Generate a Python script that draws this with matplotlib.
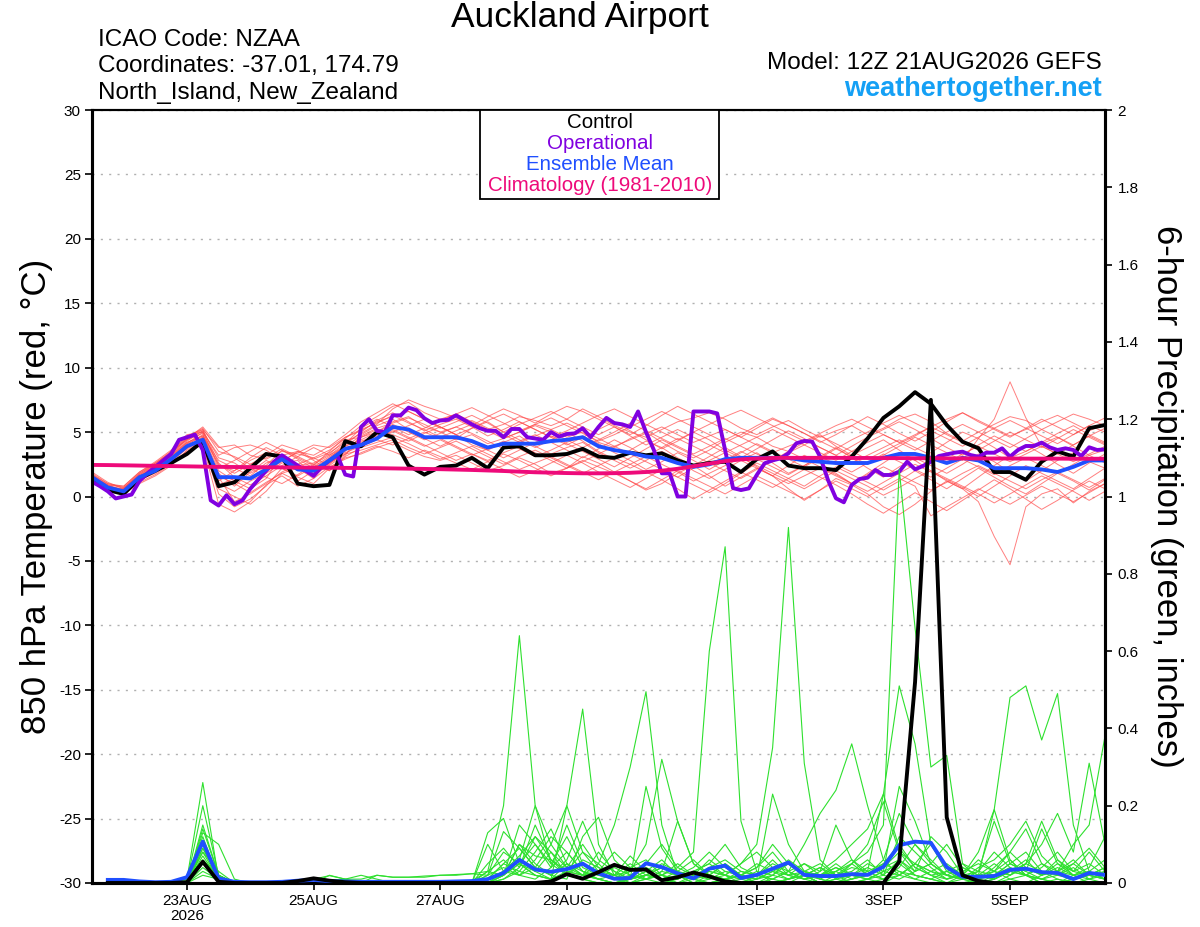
import numpy as np
import matplotlib
matplotlib.use("Agg")
import matplotlib.pyplot as plt
from matplotlib.patches import Rectangle

plt.rcParams['font.family'] = ['Liberation Sans', 'DejaVu Sans']

# ---------------- DATA ----------------
temp_hours = np.arange(0, 385, 6)      # 12Z 21AUG2026 + hours
op_hours = np.arange(0, 385, 3)
precip_hours = np.arange(6, 385, 6)

xtick_hours = [36, 84, 132, 180, 252, 300, 348]
xtick_labels = ["23AUG\n2026", "25AUG", "27AUG", "29AUG", "1SEP", "3SEP", "5SEP"]

control_temp = [1.4, 0.5, 0.2, 1.4, 2.0, 2.6, 3.3, 4.3, 0.8, 1.1, 2.2, 3.3, 3.1, 1.0, 0.8, 0.9,
                4.3, 3.9, 5.0, 4.6, 2.4, 1.7, 2.3, 2.4, 3.0, 2.2, 3.8, 3.9, 3.2, 3.2, 3.3, 3.7,
                3.1, 3.0, 3.4, 3.2, 3.35, 2.8, 2.4, 2.6, 2.7, 1.9, 2.9, 3.5, 2.4, 2.2, 2.2, 2.05,
                3.1, 4.5, 6.1, 7.0, 8.1, 7.2, 5.55, 4.25, 3.75, 1.9, 1.9, 1.3, 2.7, 3.5, 3.1, 5.3, 5.55]

operational_temp = [1.15, 0.8, 0.4, -0.15, 0.0, 0.15, 1.2, 1.8, 2.3, 2.8, 3.3, 4.4, 4.6, 4.8, 3.6, -0.3,
                    -0.7, 0.1, -0.6, -0.3, 0.6, 1.3, 2.0, 2.7, 3.2, 2.8, 2.4, 2.0, 1.6, 2.3, 2.8, 3.2,
                    1.7, 1.55, 5.4, 6.0, 5.1, 5.0, 6.3, 6.3, 6.9, 6.7, 6.07, 5.7, 5.9, 5.95, 6.3, 5.95,
                    5.6, 5.3, 5.1, 5.1, 4.6, 5.24, 5.24, 4.6, 4.5, 4.4, 5.0, 4.65, 4.85, 4.9, 5.3, 4.6,
                    5.4, 6.1, 5.7, 5.6, 5.4, 6.6, 5.0, 3.6, 1.8, 1.8, 0.0, 0.0, 6.6, 6.6, 6.6, 6.45,
                    3.6, 0.65, 0.5, 0.63, 1.67, 2.58, 2.8, 2.96, 3.35, 4.13, 4.31, 4.26, 3.09, 1.28, -0.14, -0.45,
                    0.9, 1.36, 1.46, 2.06, 1.67, 1.67, 1.93, 2.7, 2.11, 2.37, 2.7, 3.14, 3.27, 3.4, 3.48, 3.22,
                    3.09, 3.4, 3.4, 3.74, 3.09, 3.61, 3.92, 3.92, 4.18, 3.82, 3.61, 3.74, 3.61, 3.14, 3.82, 3.61,
                    3.66]

ens_mean_temp = [1.5, 0.7, 0.4, 1.5, 2.0, 2.9, 3.9, 4.4, 1.5, 1.5, 1.4, 2.1, 2.9, 2.1, 2.0, 2.8,
                 3.7, 4.0, 4.5, 5.4, 5.2, 4.6, 4.6, 4.6, 4.3, 3.8, 4.1, 4.1, 4.1, 4.3, 4.4, 4.6,
                 3.9, 3.6, 3.4, 3.1, 3.0, 2.6, 2.3, 2.5, 2.9, 3.0, 3.0, 3.0, 3.0, 2.8, 2.7, 2.6,
                 2.6, 2.6, 3.0, 3.3, 3.3, 3.0, 2.6, 3.0, 2.8, 2.2, 2.2, 2.2, 2.1, 1.9, 2.3, 2.8, 2.8]

climatology_temp = [2.45, 2.44, 2.42, 2.4, 2.38, 2.36, 2.34, 2.32, 2.3, 2.29, 2.28, 2.27, 2.26, 2.25, 2.24, 2.23,
                    2.22, 2.21, 2.2, 2.18, 2.16, 2.14, 2.12, 2.09, 2.06, 2.02, 1.98, 1.93, 1.88, 1.85, 1.82, 1.8,
                    1.8, 1.81, 1.84, 1.9, 2.0, 2.15, 2.35, 2.55, 2.75, 2.88, 2.95, 2.99, 3.0, 3.0, 3.0, 3.0,
                    2.99, 2.99, 2.98, 2.98, 2.97, 2.97, 2.96, 2.96, 2.95, 2.95, 2.95, 2.94, 2.94, 2.94, 2.93, 2.93, 2.93]

red_members = [
    [1.8,1.0,0.8,1.9,2.6,3.4,4.5,5.2,3.8,4.0,3.2,2.9,3.5,3.3,3.0,3.6,4.5,5.5,6.2,7.0,7.3,6.5,6.0,6.4,5.8,5.2,5.6,6.2,5.9,5.5,6.0,6.8,6.2,5.5,5.0,4.6,5.2,5.8,6.1,6.5,6.0,5.3,4.8,5.4,5.9,5.2,4.6,5.1,5.5,4.8,5.3,6.0,6.4,5.8,4.9,4.3,5.0,5.6,6.2,5.9,5.2,5.8,6.4,6.0,5.5],
    [1.2,0.5,0.2,1.0,1.6,2.4,3.6,4.2,0.2,-0.8,-0.2,0.8,2.2,1.5,1.0,2.2,3.0,3.3,3.8,4.2,3.6,3.1,2.8,3.2,2.6,2.0,2.4,3.0,2.5,1.8,2.2,3.1,2.6,1.9,1.2,0.5,1.0,1.8,2.4,1.6,0.8,1.5,2.2,1.6,0.6,-0.3,0.5,1.4,0.9,0.2,-0.8,-1.4,-0.6,0.4,1.2,0.6,-0.4,-3.1,-5.3,-0.8,0.2,0.6,-0.5,0.4,1.0],
    [1.6,0.8,0.5,1.6,2.2,3.1,4.1,5.0,2.4,2.0,2.8,3.4,3.0,2.4,2.6,3.3,4.4,4.6,5.0,5.8,6.2,5.4,5.0,4.4,4.8,4.1,4.5,5.0,5.6,5.2,4.6,5.0,4.2,3.8,4.5,5.0,4.2,3.5,3.0,3.6,4.4,5.0,4.6,3.9,3.5,4.2,4.8,3.9,3.2,3.8,4.4,3.6,2.8,3.4,4.2,5.0,4.5,3.8,3.0,3.5,4.1,4.6,3.9,3.2,3.6],
    [1.4,0.6,0.3,1.3,1.8,2.6,3.8,4.6,1.0,0.4,1.2,1.8,2.6,2.8,1.6,2.5,3.5,4.6,5.2,4.8,4.3,4.9,5.4,4.8,4.0,3.6,4.2,4.7,3.9,3.3,3.8,4.2,3.4,2.8,2.2,2.8,3.5,2.9,2.0,1.4,2.1,2.8,3.4,2.6,1.8,2.4,3.1,3.8,3.0,2.2,1.5,2.3,3.0,2.4,1.8,2.5,3.3,2.7,1.9,1.2,2.0,2.8,3.4,2.7,2.2],
    [1.5,0.7,0.5,1.4,2.1,3.0,4.0,4.8,2.0,1.2,0.6,1.4,3.2,3.5,2.8,2.0,3.2,4.8,5.5,6.0,5.2,4.5,3.9,4.5,5.3,5.8,5.0,4.4,3.8,4.4,5.0,4.3,3.5,2.9,3.6,4.3,3.8,3.0,2.4,3.1,3.8,3.1,2.3,1.6,2.4,3.2,2.6,1.8,1.0,1.8,2.6,3.4,2.8,2.0,1.2,0.6,1.5,2.4,3.2,4.0,3.3,2.5,1.8,2.6,3.3],
    [1.3,0.6,0.6,1.7,2.4,3.2,4.3,5.1,3.0,2.6,1.8,2.4,3.6,2.9,2.2,3.0,4.0,5.0,5.9,6.5,5.8,5.1,5.6,6.0,5.4,4.7,5.2,5.8,5.2,4.6,4.0,4.6,5.2,5.8,5.1,4.4,3.7,4.3,5.0,4.4,3.6,3.0,3.7,4.4,5.1,4.5,3.8,3.2,3.9,4.6,5.2,5.8,5.2,4.5,3.8,3.2,4.0,4.7,4.1,3.5,4.2,4.9,5.5,4.8,4.2],
    [1.7,0.9,0.4,1.5,2.3,3.3,4.4,4.9,1.5,-0.4,0.2,1.0,1.9,2.5,3.0,2.4,3.3,4.2,4.8,5.2,4.6,4.0,3.4,2.8,3.3,2.7,2.1,1.5,2.0,2.6,3.2,2.6,1.9,1.3,0.7,1.4,2.1,1.5,0.9,0.3,1.0,1.8,2.6,2.0,1.4,0.8,1.6,2.3,1.7,1.1,0.5,1.2,2.0,1.3,0.6,1.4,2.2,1.5,0.8,0.2,1.0,1.8,1.2,0.5,1.3],
    [1.5,0.8,0.6,1.8,2.5,3.5,4.6,5.3,3.5,3.1,2.5,3.2,4.0,3.6,2.9,3.4,4.2,4.9,5.6,6.8,7.5,7.0,6.6,6.1,5.5,6.2,6.8,6.3,5.7,6.4,7.0,6.6,6.0,5.4,4.8,5.5,6.3,7.0,6.4,5.8,5.2,4.6,5.3,6.0,5.5,4.9,4.2,4.8,5.5,6.2,5.6,4.9,4.3,5.0,5.8,6.5,5.8,5.2,4.6,5.3,6.0,5.4,4.8,5.5,6.1],
    [1.1,0.4,0.3,1.2,1.9,2.8,3.7,4.3,0.6,0.0,-0.6,0.4,1.8,2.2,1.8,2.6,3.3,3.6,4.0,4.4,3.8,3.3,3.8,4.3,3.7,3.1,2.5,3.1,3.6,3.0,2.4,1.8,2.4,3.0,2.5,1.9,1.3,0.6,-0.2,0.5,1.2,1.9,1.3,0.7,1.4,2.1,1.5,0.9,0.2,-0.6,-1.3,-0.5,0.3,-0.4,-1.1,-0.3,0.5,1.3,0.6,-0.2,-1.0,-0.3,0.5,1.2,0.6],
    [1.6,0.9,0.7,1.6,2.3,3.2,4.2,4.7,2.8,2.2,1.6,2.6,3.0,2.2,1.4,2.9,3.9,4.4,5.0,5.6,5.0,4.4,4.9,5.4,4.9,4.3,3.7,4.3,4.8,4.2,3.6,3.0,3.7,4.4,3.8,3.1,3.8,4.5,3.9,3.3,2.7,3.4,4.1,3.5,2.9,2.3,3.0,3.7,3.1,2.5,3.2,3.9,4.6,4.0,3.4,2.8,4.5,6.0,8.9,6.1,3.9,3.3,4.0,4.7,4.1],
    [1.4,0.5,0.4,1.4,2.0,2.7,3.9,4.5,1.2,2.0,3.0,3.8,3.2,2.5,1.8,2.6,3.6,4.3,4.7,5.0,5.5,6.0,5.4,4.8,4.2,3.6,3.0,3.6,4.2,4.7,4.1,3.5,2.9,2.3,3.0,3.7,4.4,3.8,3.2,2.6,2.0,1.4,2.1,2.8,3.5,2.9,2.3,1.7,1.0,0.4,1.1,1.8,2.5,1.9,1.3,0.7,0.0,0.8,1.6,2.4,1.8,1.2,0.6,1.4,2.2],
    [1.9,1.1,0.6,1.7,2.5,3.4,4.7,5.2,2.6,1.5,0.9,1.6,2.4,3.1,3.8,3.2,4.1,5.3,6.0,5.4,4.8,5.3,5.9,6.4,6.9,6.3,5.7,5.1,5.6,6.1,5.5,4.9,4.3,4.8,5.4,6.0,6.6,6.0,5.4,4.8,4.2,4.8,5.5,6.1,5.5,4.9,4.3,3.7,4.4,5.0,5.7,6.3,5.7,5.1,4.5,3.9,4.6,5.3,5.9,5.3,4.7,4.1,4.8,5.5,5.0],
    [1.2,0.6,0.2,1.1,1.7,2.5,3.5,4.0,-0.6,-1.2,-0.4,0.9,1.6,0.8,1.4,2.3,2.9,3.4,3.9,3.5,3.0,3.6,3.1,2.6,2.1,2.7,3.3,2.8,2.2,1.6,2.2,2.8,2.3,1.8,1.2,0.6,1.3,2.0,1.4,0.8,0.2,0.9,1.6,1.0,0.4,-0.2,0.5,1.2,0.6,0.0,0.7,1.4,0.8,-1.5,-0.8,-0.1,0.6,0.0,-0.6,0.1,0.8,0.2,-0.4,0.3,1.0],
    [1.5,0.9,0.8,1.9,2.7,3.6,4.8,5.0,3.2,3.8,4.0,3.6,2.8,3.4,4.0,3.8,4.6,5.1,5.8,6.2,6.6,6.0,5.3,5.8,6.3,5.7,5.0,5.6,6.1,6.6,6.0,5.4,4.8,5.4,4.7,4.0,4.6,5.2,4.6,4.0,3.4,4.0,4.6,5.2,4.6,4.0,3.4,2.8,3.5,4.2,4.8,4.2,3.6,4.3,5.0,5.6,5.0,4.4,3.8,4.5,5.2,4.6,4.0,4.7,5.3],
    [1.3,0.7,0.5,1.5,2.2,3.0,4.1,4.6,1.8,0.8,1.9,2.8,2.2,1.6,2.3,3.1,3.8,4.0,4.6,5.1,4.5,3.9,4.4,3.8,3.2,3.7,4.3,3.7,3.1,3.6,4.2,4.7,4.1,3.4,2.8,2.1,2.7,3.4,2.8,2.1,2.8,3.5,2.9,2.3,1.7,2.4,3.1,2.5,1.9,2.6,3.3,2.7,2.1,1.5,2.2,2.9,2.3,1.7,2.4,3.0,2.4,1.8,2.5,3.2,2.6],
    [1.6,0.8,0.4,1.6,2.4,3.3,4.5,5.4,3.9,3.0,2.2,2.0,2.7,3.5,3.2,3.9,4.8,5.8,6.5,7.2,6.6,6.0,5.4,4.8,5.3,5.9,6.4,5.8,5.2,4.6,5.1,5.7,6.3,6.8,6.2,5.6,5.0,4.4,5.0,5.6,6.2,6.7,6.1,5.5,4.9,4.3,4.9,5.5,6.0,5.4,4.8,4.2,4.8,5.4,6.0,6.5,5.9,5.3,4.7,5.2,5.8,6.3,5.7,5.1,5.6],
    [1.4,0.6,0.3,1.3,2.0,2.9,3.8,4.4,0.9,1.4,2.2,1.5,1.0,1.7,2.5,2.0,3.1,3.8,4.2,4.6,4.1,3.5,2.9,3.4,3.9,3.3,2.7,2.1,2.6,3.1,2.5,1.9,1.3,1.9,2.5,3.1,2.5,1.9,1.2,1.8,2.4,3.0,2.4,1.8,1.2,0.6,1.3,2.0,1.4,0.8,0.1,0.7,1.4,2.0,1.4,0.8,0.2,-0.5,0.2,0.9,1.6,1.0,0.4,-0.3,0.4],
    [1.7,1.0,0.7,1.8,2.6,3.5,4.4,5.1,2.2,2.8,3.5,4.2,3.6,3.0,2.4,3.5,4.6,5.2,5.7,6.3,5.7,5.2,4.6,5.1,5.6,5.1,4.5,5.0,5.5,5.0,4.4,3.8,4.4,5.0,5.7,5.1,4.5,3.9,3.3,3.9,4.5,3.9,3.3,2.7,3.4,4.0,4.7,4.1,3.5,2.9,3.5,4.1,4.7,5.4,4.8,4.2,3.6,4.3,5.0,4.4,3.8,4.5,5.2,4.6,4.0],
    [1.2,0.5,0.4,1.4,2.0,2.8,3.9,4.3,1.6,1.0,0.3,1.1,1.8,1.2,2.0,2.7,3.4,3.9,4.4,4.0,4.5,5.0,4.5,3.9,3.3,2.8,3.4,3.9,3.4,2.8,2.2,2.7,3.3,3.9,3.3,2.7,2.1,1.5,2.2,2.8,3.4,2.8,2.2,1.6,1.0,1.6,2.2,1.6,1.0,1.7,2.3,1.7,1.1,0.5,1.1,1.8,2.4,1.8,1.2,0.6,1.3,1.9,1.3,0.7,1.4],
    [1.5,0.8,0.5,1.5,2.1,3.1,4.2,4.7,2.5,1.8,2.5,3.0,3.7,3.1,2.5,3.2,3.9,4.7,5.3,5.7,6.1,5.6,5.0,5.4,5.9,5.3,4.8,4.2,4.7,5.2,5.7,5.1,4.5,3.9,4.4,4.9,5.4,4.8,4.2,4.7,5.2,4.6,4.0,3.4,3.9,4.4,3.8,3.2,2.6,3.2,3.8,4.4,3.8,3.2,2.6,3.3,3.9,3.3,2.7,3.3,3.9,3.3,2.7,3.3,3.9],
]

control_precip = [0, 0, 0, 0, 0, 0.002, 0.055, 0.003,
                  0, 0, 0, 0, 0.005, 0.012, 0.006, 0.002,
                  0, 0, 0, 0, 0, 0, 0, 0,
                  0, 0, 0, 0, 0.004, 0.023, 0.011, 0.028,
                  0.047, 0.034, 0.035, 0.007, 0.015, 0.027, 0.017, 0.004,
                  0, 0, 0, 0, 0, 0, 0, 0,
                  0, 0, 0.055, 0.52, 1.25, 0.17, 0.02, 0.005,
                  0, 0, 0, 0, 0, 0, 0, 0]

ens_mean_precip = [0.008, 0.008, 0.004, 0.002, 0.003, 0.015, 0.107, 0.012,
                   0.003, 0.002, 0.002, 0.003, 0.006, 0.008, 0.005, 0.004,
                   0.003, 0.003, 0.003, 0.003, 0.003, 0.003, 0.004, 0.005,
                   0.010, 0.026, 0.060, 0.035, 0.029, 0.036, 0.050, 0.025,
                   0.011, 0.013, 0.051, 0.041, 0.025, 0.012, 0.037, 0.045,
                   0.013, 0.021, 0.037, 0.053, 0.021, 0.018, 0.018, 0.023,
                   0.021, 0.042, 0.098, 0.107, 0.104, 0.041, 0.016, 0.016,
                   0.018, 0.034, 0.037, 0.028, 0.026, 0.010, 0.026, 0.021]

Z8 = [0, 0, 0, 0, 0, 0, 0, 0]
green_members = [
    [0.005,0.005,0,0,0,0.01,0.26,0.01] + Z8 + [0,0,0,0,0,0,0,0.005] +
    [0.03,0.2,0.64,0.2,0.05,0.02,0.01,0] + [0,0.01,0.03,0.01,0,0,0.02,0.05] +
    [0.02,0,0,0.01,0.03,0.01,0,0] + [0,0.01,0.02,0.05,0.02,0,0,0] + [0.01,0.03,0.02,0,0,0.01,0.02,0.01],
    [0.005,0.005,0,0,0,0.005,0.2,0.02] + Z8 + Z8 +
    [0.01,0.05,0.09,0.04,0.1,0.2,0.45,0.1] + [0.02,0,0.01,0.02,0,0.01,0.03,0.02] +
    [0,0,0.02,0.05,0.02,0,0,0.01] + [0.03,0.23,0.51,0.36,0.1,0.03,0.01,0] + [0,0.02,0.05,0.03,0.01,0,0,0],
    [0.005,0.005,0,0,0,0,0.15,0.02] + [0,0,0,0,0,0,0.005,0] + Z8 +
    [0,0.02,0.1,0.07,0.06,0.03,0.02,0.05] + [0.15,0.3,0.495,0.15,0.02,0,0,0.01] +
    [0.02,0,0,0.01,0.02,0,0.01,0.05] + [0.02,0.01,0.03,0.02,0.01,0,0.02,0.06] + [0.03,0.01,0,0.02,0.04,0.02,0,0],
    [0.005,0.005,0,0,0,0.005,0.13,0.1] + [0.01,0,0,0,0,0,0,0] + Z8 +
    [0,0.01,0.04,0.12,0.08,0.02,0.01,0] + [0,0.01,0.02,0.02,0.04,0.08,0.6,0.87] +
    [0.16,0.03,0,0.01,0.02,0,0,0.01] + [0.02,0.05,0.03,0.01,0,0,0.01,0.02] + [0.19,0.06,0.02,0,0.01,0,0.01,0],
    [0.005,0.005,0,0,0,0,0.12,0.01] + [0,0,0,0,0,0,0.02,0.01] + [0,0.02,0.015,0.015,0.015,0.02,0.02,0.024] +
    [0.03,0.02,0.05,0.03,0.01,0.05,0.02,0.01] + [0,0,0.01,0.03,0.02,0,0.01,0.02] +
    [0.05,0.1,0.35,0.92,0.31,0.06,0.02,0] + [0.01,0.03,0.05,0.02,0.01,0,0,0.01] + [0.02,0.05,0.03,0.01,0,0.02,0.03,0.01],
    [0.005,0.005,0,0,0,0,0.1,0.01] + Z8 + Z8 +
    [0.01,0.03,0.02,0.01,0.04,0.08,0.03,0.01] + [0,0.01,0.02,0.01,0,0.02,0.04,0.02] +
    [0.01,0,0.01,0.03,0.01,0,0.02,0.05] + [0.08,0.15,1.07,0.66,0.3,0.33,0.05,0.01] + [0,0.01,0.02,0.01,0,0.01,0.02,0.04],
    [0.005,0.005,0,0,0,0,0.09,0.01] + Z8 + Z8 +
    [0,0.02,0.15,0.1,0.05,0.12,0.04,0.02] + [0.01,0.03,0.1,0.32,0.16,0.05,0.02,0.01] +
    [0,0.01,0.03,0.05,0.02,0,0.01,0.02] + [0.01,0,0.02,0.05,0.03,0.01,0.02,0.08] + [0.19,0.48,0.51,0.37,0.49,0.15,0.03,0.01],
    [0.005,0.005,0,0,0,0.005,0.08,0.03] + Z8 + Z8 +
    [0.01,0.05,0.03,0.08,0.14,0.05,0.02,0.03] + [0.08,0.04,0.01,0,0.01,0.03,0.02,0.01] +
    [0.02,0.04,0.08,0.03,0.1,0.18,0.24,0.36] + [0.2,0.06,0.02,0.01,0.03,0.05,0.02,0] + [0.01,0.03,0.05,0.16,0.06,0.02,0.01,0.03],
    [0.005,0.005,0,0,0,0,0.07,0.01] + Z8 + Z8 +
    [0,0.01,0.03,0.02,0.01,0.02,0.06,0.04] + [0.02,0.01,0.03,0.06,0.02,0.01,0,0.01] +
    [0.03,0.02,0.01,0,0.02,0.04,0.01,0] + [0.01,0.02,0.06,0.03,0.12,0.08,0.02,0.01] + [0.03,0.02,0.05,0.1,0.18,0.08,0.31,0.1],
    [0.005,0.005,0,0,0,0,0.06,0.01] + Z8 + Z8 +
    [0.02,0.08,0.05,0.02,0.01,0.03,0.08,0.05] + [0.01,0,0.02,0.04,0.02,0.01,0.02,0.05] +
    [0.02,0.01,0.23,0.1,0.03,0.01,0,0.02] + [0.04,0.02,0.01,0.03,0.05,0.02,0.01,0] + [0.02,0.04,0.02,0.05,0.03,0.1,0.15,0.38],
    [0.005,0.005,0,0,0,0,0.05,0.02] + Z8 + Z8 +
    [0.01,0.03,0.07,0.12,0.06,0.03,0.02,0.01] + [0,0.01,0.25,0.09,0.03,0.01,0,0.01] +
    [0.02,0.01,0.03,0.02,0.05,0.03,0.06,0.1] + [0.14,0.23,0.09,0.04,0.02,0.01,0.03,0.05] + [0.03,0.08,0.14,0.05,0.02,0.01,0.02,0.01],
    [0.005,0.005,0,0,0,0,0.04,0.01] + Z8 + Z8 +
    [0,0.02,0.1,0.05,0.02,0.01,0.12,0.17] + [0.06,0.02,0.01,0.03,0.16,0.05,0.02,0.01] +
    [0,0.02,0.05,0.03,0.01,0.03,0.15,0.06] + [0.03,0.01,0.04,0.1,0.06,0.02,0.01,0.03] + [0.08,0.04,0.02,0.01,0.03,0.06,0.02,0.01],
    [0.005,0.005,0,0,0,0,0.03,0.01] + Z8 + Z8 +
    [0.13,0.167,0.05,0.02,0.01,0.2,0.08,0.03] + [0.01,0.02,0.04,0.02,0.01,0.03,0.05,0.02] +
    [0.01,0.03,0.02,0.01,0.03,0.02,0.05,0.02] + [0.01,0.03,0.02,0.05,0.1,0.04,0.01,0.02] + [0.05,0.02,0.04,0.02,0.06,0.03,0.02,0.04],
    [0.005,0.005,0,0,0,0,0.02,0.01] + [0,0,0,0,0,0.01,0.019,0.01] + [0.01,0.02,0.015,0.015,0.018,0.02,0.022,0.024] +
    [0.02,0.133,0.09,0.04,0.02,0.05,0.03,0.01] + [0.02,0.05,0.02,0.01,0.03,0.06,0.02,0] +
    [0.01,0.02,0.04,0.02,0.01,0.02,0.03,0.01] + [0.02,0.04,0.08,0.05,0.03,0.02,0.01,0.02] + [0.01,0.03,0.02,0.01,0.02,0.04,0.01,0.02],
    [0.005,0.005,0,0,0,0,0.06,0.02] + [0,0,0,0,0.005,0.01,0.005,0.01] + [0.02,0.01,0,0,0,0,0,0] +
    [0.1,0.03,0.06,0.2,0.1,0.04,0.02,0.08] + [0.03,0.01,0.02,0.05,0.03,0.02,0.06,0.03] +
    [0.02,0.05,0.03,0.01,0.02,0.04,0.02,0.03] + [0.06,0.02,0.12,0.08,0.04,0.01,0.02,0.03] + [0.02,0.05,0.08,0.03,0.02,0.05,0.09,0.04],
    [0.005,0.005,0,0,0,0,0.11,0.01] + Z8 + Z8 +
    [0.05,0.09,0.04,0.15,0.06,0.02,0.05,0.03] + [0.02,0.07,0.03,0.01,0.02,0.04,0.08,0.04] +
    [0.02,0.01,0.02,0.06,0.03,0.02,0.04,0.02] + [0.05,0.03,0.25,0.16,0.05,0.02,0.04,0.02] + [0.03,0.06,0.02,0.04,0.08,0.03,0.05,0.02],
    [0.005,0.005,0,0,0,0,0.09,0.02] + Z8 + Z8 +
    [0.02,0.04,0.02,0.06,0.12,0.08,0.03,0.02] + [0.01,0.04,0.06,0.02,0.01,0.03,0.05,0.1] +
    [0.04,0.02,0.01,0.03,0.05,0.02,0.03,0.06] + [0.02,0.06,0.18,0.1,0.05,0.02,0.01,0.04] + [0.06,0.1,0.16,0.07,0.03,0.02,0.04,0.12],
    [0.005,0.005,0,0,0,0,0.05,0.01] + Z8 + Z8 +
    [0,0.03,0.06,0.03,0.08,0.04,0.1,0.04] + [0.02,0.03,0.05,0.1,0.04,0.02,0.03,0.02] +
    [0.05,0.08,0.04,0.02,0.03,0.05,0.02,0.04] + [0.03,0.05,0.1,0.04,0.02,0.03,0.05,0.03] + [0.16,0.05,0.03,0.14,0.05,0.02,0.03,0.06],
    [0.005,0.005,0,0,0,0,0.14,0.02] + Z8 + Z8 +
    [0.01,0.02,0.05,0.1,0.04,0.15,0.05,0.02] + [0.04,0.02,0.01,0.02,0.05,0.02,0.01,0.03] +
    [0.02,0.04,0.1,0.05,0.02,0.01,0.03,0.05] + [0.1,0.21,0.08,0.03,0.05,0.1,0.04,0.02] + [0.01,0.03,0.06,0.02,0.05,0.03,0.08,0.03],
    [0.005,0.005,0,0,0,0,0.08,0.01] + Z8 + Z8 +
    [0.03,0.06,0.02,0.04,0.02,0.06,0.16,0.06] + [0.03,0.01,0.02,0.04,0.02,0.01,0.04,0.06] +
    [0.03,0.02,0.06,0.02,0.01,0.02,0.04,0.02] + [0.02,0.04,0.06,0.02,0.01,0.03,0.02,0.01] + [0.04,0.08,0.04,0.02,0.03,0.05,0.02,0.03],
]

# ---------------- STYLE ----------------
C_RED = '#ff4a4a'
C_GREEN = '#2ee02e'
C_OP = '#8000e0'
C_MEAN = '#1f4fff'
C_CLIM = '#ee0a7a'

fig = plt.figure(figsize=(12, 9.27), dpi=100)
ax = fig.add_axes([92/1200, 1 - 883/927, (1105 - 92)/1200, (883 - 110)/927])
ax2 = ax.twinx()

# temperature
for m in red_members:
    ax.plot(temp_hours, m, color=C_RED, lw=0.7, alpha=0.7, zorder=2)
ax.plot(temp_hours, control_temp, color='black', lw=2.8, zorder=4)
ax.plot(op_hours, operational_temp, color=C_OP, lw=2.8, zorder=5)
ax.plot(temp_hours, ens_mean_temp, color=C_MEAN, lw=2.8, zorder=6)
ax.plot(temp_hours, climatology_temp, color=C_CLIM, lw=2.8, zorder=7)

# precipitation
for m in green_members:
    ax2.plot(precip_hours, m, color=C_GREEN, lw=0.8, zorder=2)
ax2.plot(precip_hours, ens_mean_precip, color=C_MEAN, lw=2.8, zorder=4)
ax2.plot(precip_hours, control_precip, color='black', lw=2.8, zorder=5)

ax.set_xlim(0, 384)
ax.set_ylim(-30, 30)
ax2.set_ylim(0, 2)
ax.set_yticks(np.arange(-30, 31, 5))
ax.set_yticklabels([str(v) for v in range(-30, 31, 5)], fontsize=11)
ax2.set_yticks(np.arange(0, 2.01, 0.2))
ax2.set_yticklabels(['0', '0.2', '0.4', '0.6', '0.8', '1', '1.2', '1.4', '1.6', '1.8', '2'], fontsize=11)
ax.set_xticks(xtick_hours)
ax.set_xticklabels(xtick_labels, fontsize=11, linespacing=1.05)

ax.grid(axis='y', color='#b0b0b0', linestyle=(0, (1.5, 4.5)), lw=1.0)
ax.set_axisbelow(True)

for a in (ax, ax2):
    for s in ('left', 'bottom', 'right'):
        a.spines[s].set_linewidth(2.2)
    a.spines['top'].set_linewidth(1.5)
ax.tick_params(axis='both', direction='out', length=5, width=1.2, pad=3)
ax2.tick_params(axis='y', direction='out', length=5, width=1.2, pad=4)

ax.set_ylabel('850 hPa Temperature (red, \u00b0C)', fontsize=25, labelpad=4)
ax2.set_ylabel('6-hour Precipitation (green, inches)', fontsize=25, rotation=-90, labelpad=32)

# header texts
fig.text(580/1200, 1 - 18/927, 'Auckland Airport', fontsize=25.5, ha='center', va='center')
fig.text(98/1200, 1 - 40/927, 'ICAO Code: NZAA', fontsize=17.5, ha='left', va='center')
fig.text(98/1200, 1 - 66/927, 'Coordinates: -37.01, 174.79', fontsize=17.5, ha='left', va='center')
fig.text(98/1200, 1 - 93/927, 'North_Island, New_Zealand', fontsize=17.5, ha='left', va='center')
fig.text(1102/1200, 1 - 63/927, 'Model: 12Z 21AUG2026 GEFS', fontsize=17.5, ha='right', va='center')
fig.text(1102/1200, 1 - 89/927, 'weathertogether.net', fontsize=19.5, ha='right', va='center',
         color='#14a0f5', fontweight='bold')

# legend box
fig.patches.append(Rectangle((480/1200, 1 - 199/927), (719 - 480)/1200, (199 - 110)/927,
                             transform=fig.transFigure, facecolor='white', edgecolor='black',
                             lw=1.3, zorder=10))
leg_items = [('Control', 'black'), ('Operational', C_OP), ('Ensemble Mean', C_MEAN),
             ('Climatology (1981-2010)', C_CLIM)]
for k, (txt, col) in enumerate(leg_items):
    fig.text(600/1200, 1 - (122 + 21.3*k)/927, txt, fontsize=14.8, ha='center', va='center',
             color=col, zorder=11)

fig.savefig('out.png', dpi=100)
